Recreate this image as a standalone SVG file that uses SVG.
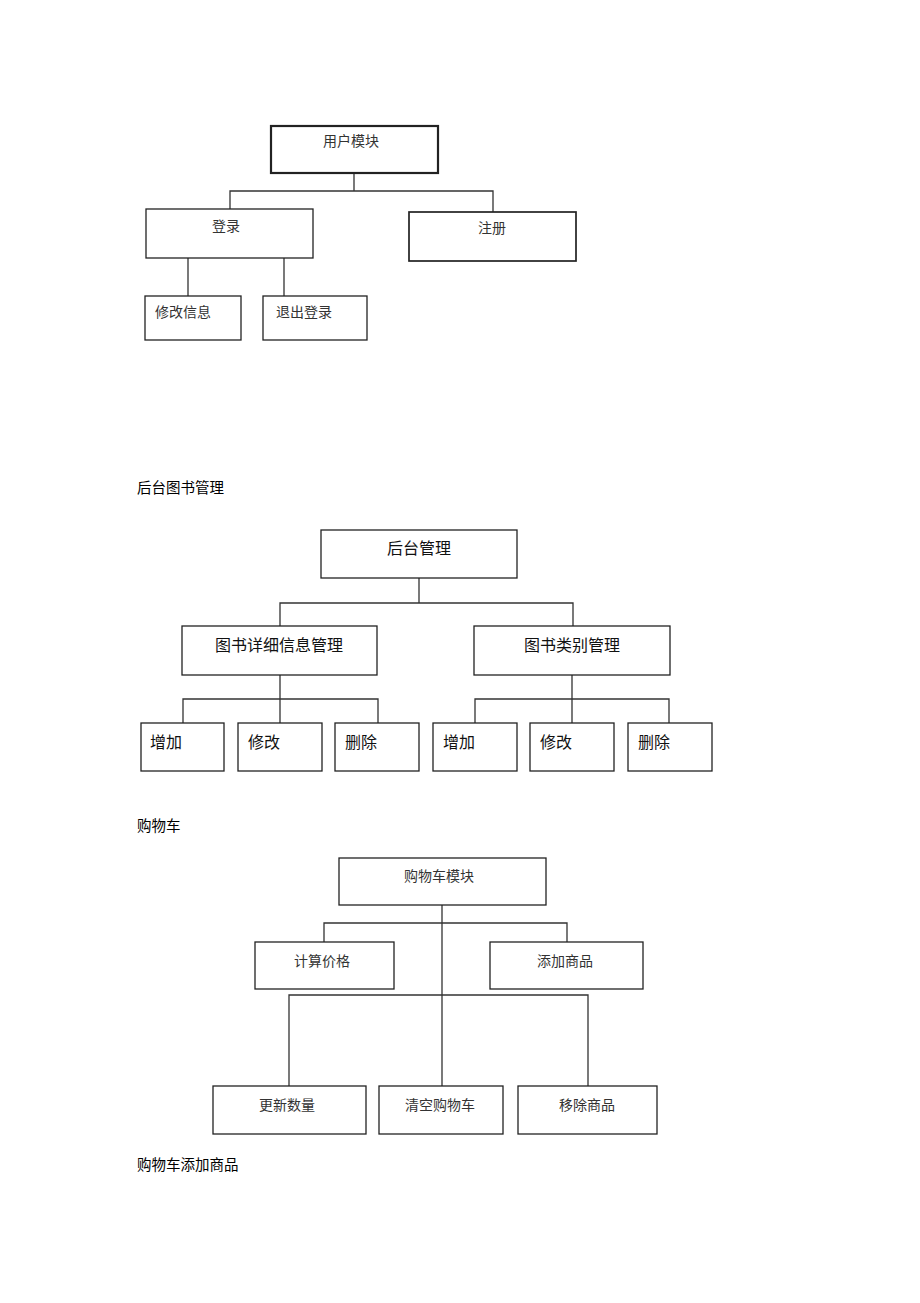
<svg xmlns="http://www.w3.org/2000/svg" width="920" height="1303" viewBox="0 0 920 1303">
<style>
rect{fill:#fff;stroke:#222;stroke-width:1.3}
.thick{stroke-width:2.2}
.med{stroke-width:1.7}
path{fill:none;stroke:#333;stroke-width:1.3}
text{font-family:"Liberation Serif","Noto Sans CJK SC",serif;font-size:14px;fill:#333;dominant-baseline:middle}
.s{font-family:"Liberation Sans","Noto Sans CJK SC",sans-serif;font-size:16px;fill:#111}
.c{text-anchor:middle}
.lbl{font-family:"Liberation Sans","Noto Sans CJK SC",sans-serif;font-size:14.5px;fill:#000}
</style>
<rect width="920" height="1303" style="fill:#fff;stroke:none"/>
<g id="connectors">
<path d="M354 173V191M230 209V191H493V212M188 258V296M284 258V296"/>
<path d="M419 578V603M280 626V603H573V626M280 675V699M183 723V699H378V723M280 699V723M572 675V699M475 723V699H669V723M572 699V723"/>
<path d="M442 905V1086M324 942V923H567V942M289 1086V995H588V1086"/>
</g>
<g id="n1"><rect class="thick" x="271" y="126" width="167" height="47"/><text x="351" y="143" class="c">用户模块</text></g>
<g id="n2"><rect x="146" y="209" width="167" height="49"/><text x="226" y="228" class="c">登录</text></g>
<g id="n3"><rect class="med" x="409" y="212" width="167" height="49"/><text x="492" y="230" class="c">注册</text></g>
<g id="n4"><rect x="145" y="296" width="96" height="44"/><text x="155" y="314">修改信息</text></g>
<g id="n5"><rect x="263" y="296" width="104" height="44"/><text x="276" y="314">退出登录</text></g>
<text x="137" y="489" class="lbl">后台图书管理</text>
<g id="n6"><rect x="321" y="530" width="196" height="48"/><text x="419" y="550" class="s c">后台管理</text></g>
<g id="n7"><rect x="182" y="626" width="195" height="49"/><text x="279" y="647" class="s c">图书详细信息管理</text></g>
<g id="n8"><rect x="474" y="626" width="196" height="49"/><text x="572" y="647" class="s c">图书类别管理</text></g>
<g id="n9"><rect x="141" y="723" width="83" height="48"/><text x="150" y="744" class="s">增加</text></g>
<g id="n10"><rect x="238" y="723" width="84" height="48"/><text x="248" y="744" class="s">修改</text></g>
<g id="n11"><rect x="335" y="723" width="84" height="48"/><text x="345" y="744" class="s">删除</text></g>
<g id="n12"><rect x="433" y="723" width="84" height="48"/><text x="443" y="744" class="s">增加</text></g>
<g id="n13"><rect x="530" y="723" width="84" height="48"/><text x="540" y="744" class="s">修改</text></g>
<g id="n14"><rect x="628" y="723" width="84" height="48"/><text x="638" y="744" class="s">删除</text></g>
<text x="137" y="827" class="lbl">购物车</text>
<g id="n15"><rect x="339" y="858" width="207" height="47"/><text x="439" y="878" class="c">购物车模块</text></g>
<g id="n16"><rect x="255" y="942" width="139" height="47"/><text x="322" y="963" class="c">计算价格</text></g>
<g id="n17"><rect x="490" y="942" width="153" height="47"/><text x="565" y="963" class="c">添加商品</text></g>
<g id="n18"><rect x="213" y="1086" width="153" height="48"/><text x="287" y="1107" class="c">更新数量</text></g>
<g id="n19"><rect x="379" y="1086" width="124" height="48"/><text x="440" y="1107" class="c">清空购物车</text></g>
<g id="n20"><rect x="518" y="1086" width="139" height="48"/><text x="587" y="1107" class="c">移除商品</text></g>
<text x="137" y="1166" class="lbl">购物车添加商品</text>
</svg>
